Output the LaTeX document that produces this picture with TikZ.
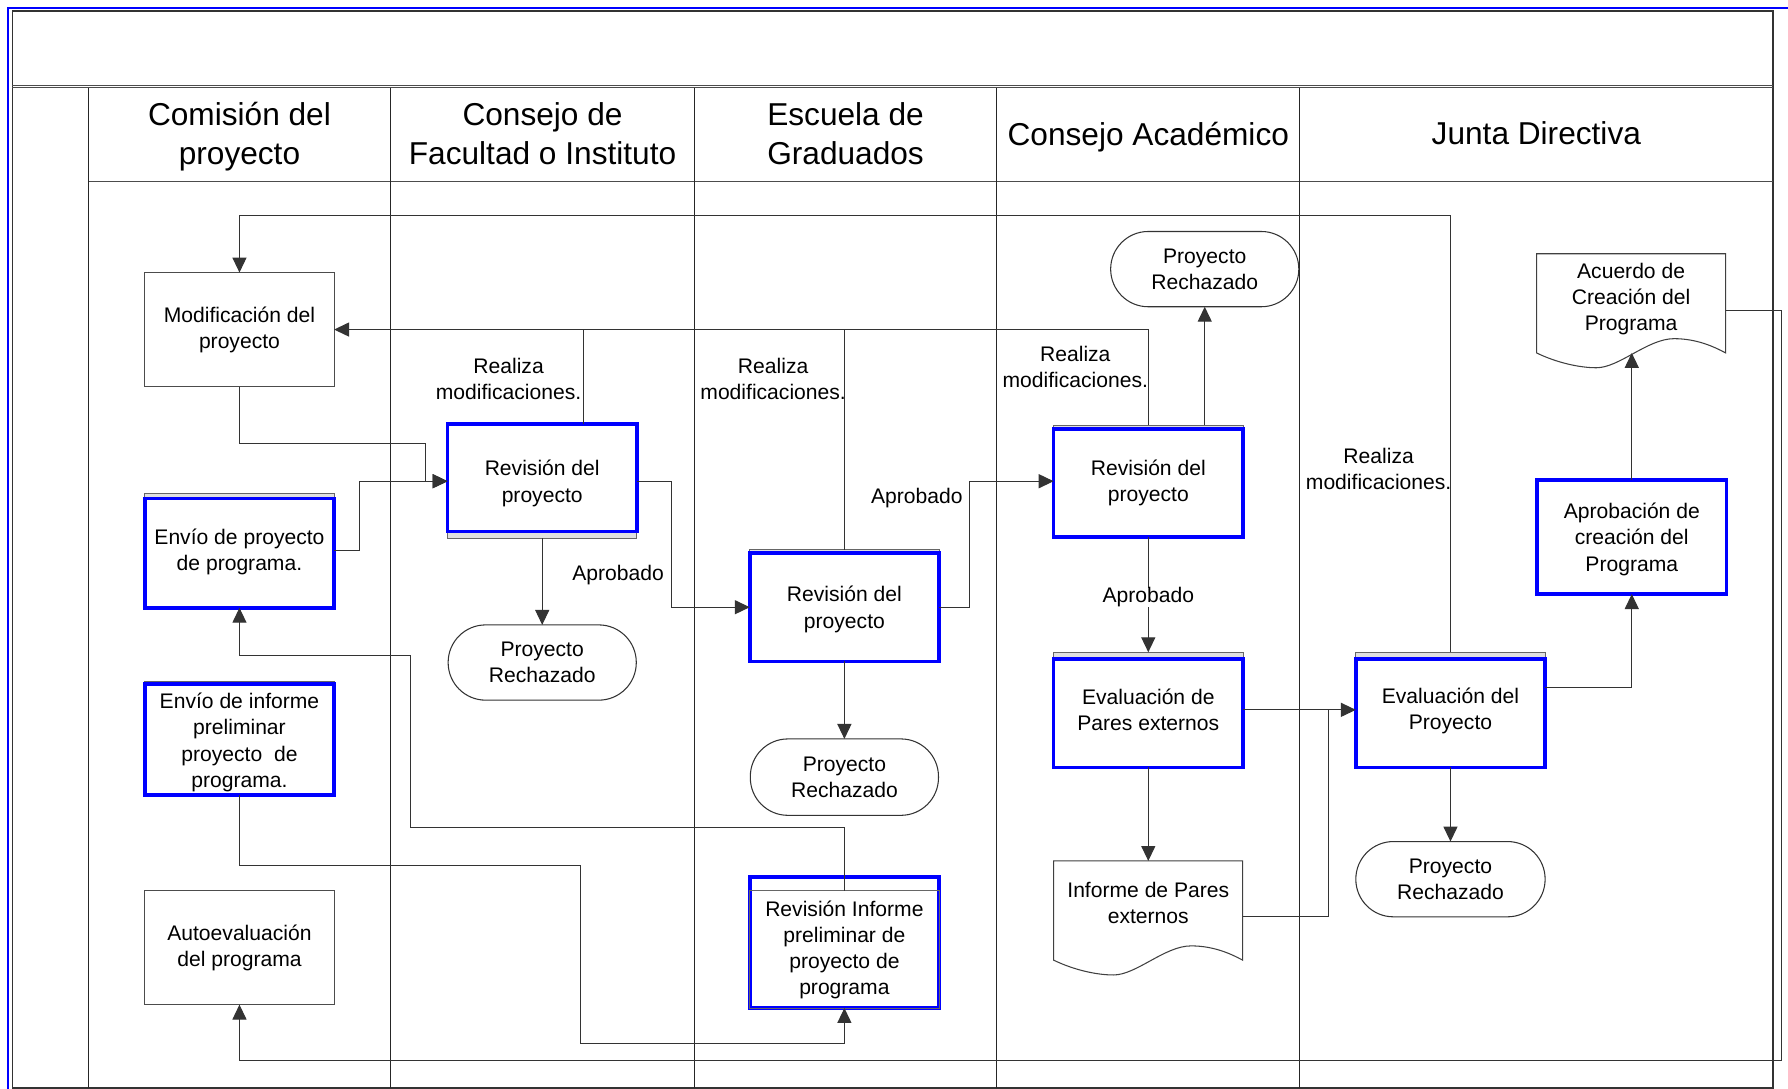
\documentclass[tikz,border=0pt]{standalone}
\usepackage{fontspec}
\setmainfont{Liberation Sans}
\usetikzlibrary{arrows.meta,calc}
\begin{document}
\begin{tikzpicture}[x=0.0228cm,y=-0.0228cm,
  sz/.style 2 args={minimum width=#1*0.0228cm,minimum height=#2*0.0228cm},
  every node/.style={inner sep=0pt,outer sep=0pt},
  txt/.style={font=\fontsize{12}{14.9}\selectfont,align=center},
  head/.style={font=\fontsize{18}{22}\selectfont,align=center},
  plain/.style={txt,draw=black!70,line width=0.6pt,fill=white},
  bluebox/.style={txt,draw=blue,line width=2pt,fill=white},
  btext/.style 2 args={label={[txt,yshift=-#1*0.0228cm]center:#2}},
  backbox/.style={draw=black!60,line width=0.5pt,fill=black!12},
  term/.style={txt,draw=black!80,line width=0.6pt,rounded corners=0.75cm,fill=white},
  conn/.style={draw=black!80,line width=0.6pt},
  arr/.style={-{Triangle[length=8.5pt,width=8pt]}},
  lbl/.style={txt},
  lane/.style={draw=black!85,line width=0.7pt},
  docline/.style={draw=black!75,line width=0.6pt,fill=white},
  docshape/.pic={\draw[docline] (0,0) -- (165.8,0) -- (165.8,87) .. controls (155.5,81.5) and (140.5,74.5) .. (120.5,74.5) .. controls (97.5,74.5) and (72.5,100) .. (52.5,100) .. controls (37.5,100) and (17.5,95.5) .. (0,87) -- cycle;}
]
\useasboundingbox (0,0) rectangle (1568,955);
% frame
\draw[blue,line width=1.1pt] (6.8,6.8) rectangle (1575,965);
\draw[draw=black!80,line width=0.9pt] (10.8,9.7) rectangle (1554.6,953.9);
\draw[black!70,line width=0.5pt] (10.8,74.6) -- (1554.6,74.6);
\draw[black!70,line width=0.5pt] (10.8,76.8) -- (1554.6,76.8);
\draw[black!70,line width=0.6pt] (77.5,159.3) -- (1554.6,159.3);
\foreach \x in {77.5,342.6,609.05,874.2,1139.8} \draw[lane] (\x,76.8) -- (\x,953.9);
% headers
\node[head] (h1) at (210,120) {Comisión del\\proyecto};
\node[head] (h2) at (475.8,117) {Consejo de\\Facultad o Instituto};
\node[head] (h3) at (741.5,117) {Escuela de\\Graduados};
\node[head] (h4) at (1007,120) {Consejo Académico};
\node[head] (h5) at (1347.3,117) {Junta Directiva};
% nodes
\node[plain,sz={166}{100}] (mod) at (210,289) {Modificación del\\proyecto};
\node[backbox,sz={166}{100}] (envpb) at (210,483) {};
\node[bluebox,sz={166}{96},btext={-1}{Envío de proyecto\\de programa.}] (envp) at (210,485) {};
\node[backbox,sz={166}{99}] (envib) at (210,647.5) {};
\node[bluebox,sz={166}{97},btext={2.5}{Envío de informe\\preliminar\\proyecto\ \ de\\programa.}] (envi) at (210,648.5) {};
\node[plain,sz={166}{100}] (auto) at (210,831) {Autoevaluación\\del programa};
\node[backbox,sz={166}{100}] (revCFb) at (475.5,422) {};
\node[bluebox,sz={166}{94},btext={5}{Revisión del\\proyecto}] (revCF) at (475.5,419) {};
\node[term,sz={165}{66}] (rechCF) at (475.5,581) {Proyecto\\Rechazado};
\node[backbox,sz={166}{98}] (revEGb) at (740.5,531) {};
\node[bluebox,sz={166}{95},btext={2}{Revisión del\\proyecto}] (revEG) at (740.5,532.5) {};
\node[term,sz={165}{67}] (rechEG) at (740.5,681.5) {Proyecto\\Rechazado};
\node[bluebox,sz={166}{115},btext={6.5}{Revisión Informe\\preliminar de\\proyecto de\\programa}] (revInf) at (740.5,826.5) {};
\node[draw=black!60,line width=0.5pt,sz={166}{103}] (revInfb) at (740.5,832.5) {};
\node[term,sz={165}{66}] (rechCA) at (1056.5,236) {Proyecto\\Rechazado};
\node[backbox,sz={166}{98}] (revCAb) at (1007,422) {};
\node[bluebox,sz={166}{95},btext={0}{Revisión del\\proyecto}] (revCA) at (1007,423.5) {};
\node[backbox,sz={166}{101}] (evalPEb) at (1007,622.5) {};
\node[bluebox,sz={166}{95},btext={-3}{Evaluación de\\Pares externos}] (evalPE) at (1007,625.5) {};
\pic at (924,755) {docshape};
\node[txt] (inf) at (1007,791.5) {Informe de Pares\\externos};
\node[backbox,sz={166}{101}] (evalPb) at (1272,622.5) {};
\node[bluebox,sz={166}{95},btext={-2}{Evaluación del\\Proyecto}] (evalP) at (1272,625.5) {};
\node[term,sz={166}{66}] (rechJD) at (1272,771) {Proyecto\\Rechazado};
\node[bluebox,sz={166}{100},btext={2}{Aprobación de\\creación del\\Programa}] (aprob) at (1431,471) {};
\pic at (1347.5,222.5) {docshape};
\node[txt] (acu) at (1430.4,262) {Acuerdo de\\Creación del\\Programa};
% coordinates
\coordinate (infT) at (1007,755);
\coordinate (infR) at (1089.8,804);
\coordinate (acuB) at (1430.5,309.5);
\coordinate (acuR) at (1513.3,272.5);
\coordinate (topY) at (0,189);
\coordinate (cfx) at ($(revCFb.north)+(36.5,0)$);
% connectors
\draw[conn,arr] (evalPb.north) -- (evalPb.north |- topY) -| (mod.north);
\draw[conn,arr] (revCAb.north) |- (mod.east);
\draw[conn] (revEGb.north) -- (revEGb.north |- mod.east);
\draw[conn] (cfx) -- (cfx |- mod.east);
\draw[conn,arr] (rechCA.south |- revCAb.north) -- (rechCA.south);
\draw[conn,arr] (mod.south) -- ++(0,50) -- ++(163,0) |- (revCFb.west);
\draw[conn,arr] (envpb.east) -- ++(22,0) |- (revCFb.west);
\draw[conn,arr] (revCFb.south) -- (rechCF.north);
\draw[conn,arr] (revCFb.east) -- ++(30,0) |- (revEG.west);
\draw[conn,arr] (revEG.east) -- ++(27,0) |- (revCAb.west);
\draw[conn,arr] (revEG.south) -- (rechEG.north);
\draw[conn,arr] (revInfb.north) -- ++(0,-55) -- ++(-380.5,0) -- ++(0,-151) -| (envp.south);
\draw[conn,arr] (envi.south) -- ++(0,62) -- ++(299,0) -- ++(0,156) -| (revInf.south);
\draw[conn,arr] (revCA.south) -- (evalPEb.north);
\draw[conn,arr] (evalPE.south) -- (infT);
\draw[conn,arr] (evalPEb.east) -- (evalPb.west);
\draw[conn] (infR) -- ++(75.2,0) -- ++(0,-181.5);
\draw[conn,arr] ($(evalPb.east)+(0,-19.5)$) -| (aprob.south);
\draw[conn,arr] (evalP.south) -- (rechJD.north);
\draw[conn,arr] (aprob.north) -- (aprob.north |- acuB);
\draw[conn,arr] (acuR) -- ++(49.2,0) -- ++(0,657.5) -| (auto.south);
% labels
\node[lbl] (lm1) at (446,332) {Realiza\\modificaciones.};
\node[lbl] (lm2) at (678,332) {Realiza\\modificaciones.};
\node[lbl] (lm3) at (943,322) {Realiza\\modificaciones.};
\node[lbl] (lm4) at (1209,411.5) {Realiza\\modificaciones.};
\node[lbl] (la1) at (542,504) {Aprobado};
\node[lbl] (la2) at (804,437) {Aprobado};
\node[lbl,fill=white] (la3) at (1007,524) {Aprobado};
\end{tikzpicture}
\end{document}
